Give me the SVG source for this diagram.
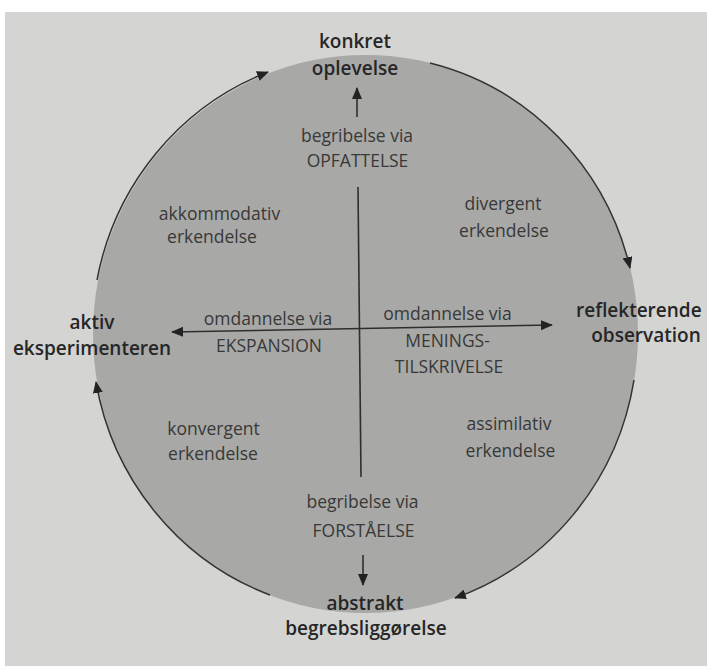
<svg xmlns="http://www.w3.org/2000/svg" width="707" height="666" viewBox="0 0 707 666">
<style>
.outer{font-family:"Open Sans","Liberation Sans",sans-serif;font-size:19px;font-weight:600;fill:#262626;text-anchor:middle}
.inner{font-family:"Open Sans","Liberation Sans",sans-serif;font-size:17.5px;font-weight:400;fill:#383838;text-anchor:middle}
.arc{fill:none;stroke:#333;stroke-width:1.5}
.axis{fill:none;stroke:#2e2e2e;stroke-width:1.6}
</style>
<defs>
<marker id="ah" viewBox="0 0 12 10" refX="11" refY="5" markerWidth="12" markerHeight="10" markerUnits="userSpaceOnUse" orient="auto-start-reverse">
<path d="M0,0 L12,5 L0,10 Z" fill="#222"/>
</marker>
</defs>
<rect x="0" y="0" width="707" height="666" fill="#ffffff"/>
<rect x="5" y="12" width="702" height="654" fill="#d4d4d2"/>
<ellipse id="cycle" cx="365.5" cy="334" rx="272.5" ry="279" fill="#a8a8a6"/>
<g id="connectors">
<path class="arc" d="M430,63 A272.5,279 0 0 1 630,268" marker-end="url(#ah)"/>
<path class="arc" d="M634,380 A272.5,279 0 0 1 455,598" marker-end="url(#ah)"/>
<path class="arc" d="M270,595 A272.5,279 0 0 1 96,382" marker-end="url(#ah)"/>
<path class="arc" d="M97,280 A272.5,279 0 0 1 268,72" marker-end="url(#ah)"/>
<path class="axis" d="M357,117 L357,88" marker-end="url(#ah)"/>
<path class="axis" d="M358,187 L361,477"/>
<path class="axis" d="M363,555 L363,585" marker-end="url(#ah)"/>
<path class="axis" d="M172,332 L552,325" marker-start="url(#ah)" marker-end="url(#ah)"/>
</g>
<g id="konkret-oplevelse"><text class="outer" x="355" y="48">konkret</text><text class="outer" x="355" y="75">oplevelse</text></g>
<g id="reflekterende-observation"><text class="outer" x="576" y="317" style="text-anchor:start">reflekterende</text><text class="outer" x="646" y="342">observation</text></g>
<g id="abstrakt-begrebsliggoerelse"><text class="outer" x="365" y="610">abstrakt</text><text class="outer" x="366" y="635">begrebsliggørelse</text></g>
<g id="aktiv-eksperimenteren"><text class="outer" x="92" y="329">aktiv</text><text class="outer" x="92" y="355">eksperimenteren</text></g>
<g id="opfattelse"><text class="inner" x="357" y="142">begribelse via</text><text class="inner" x="357.5" y="167">OPFATTELSE</text></g>
<g id="forstaaelse"><text class="inner" x="362.5" y="508">begribelse via</text><text class="inner" x="363.5" y="537">FORSTÅELSE</text></g>
<g id="ekspansion"><text class="inner" x="268" y="325">omdannelse via</text><text class="inner" x="269" y="352">EKSPANSION</text></g>
<g id="meningstilskrivelse"><text class="inner" x="447.5" y="320">omdannelse via</text><text class="inner" x="447.5" y="347">MENINGS-</text><text class="inner" x="449" y="373">TILSKRIVELSE</text></g>
<g id="akkommodativ"><text class="inner" x="219.5" y="220">akkommodativ</text><text class="inner" x="212" y="243">erkendelse</text></g>
<g id="divergent"><text class="inner" x="503" y="210">divergent</text><text class="inner" x="504" y="237">erkendelse</text></g>
<g id="konvergent"><text class="inner" x="213.5" y="435">konvergent</text><text class="inner" x="213" y="460">erkendelse</text></g>
<g id="assimilativ"><text class="inner" x="509" y="430">assimilativ</text><text class="inner" x="510.5" y="457">erkendelse</text></g>
</svg>
